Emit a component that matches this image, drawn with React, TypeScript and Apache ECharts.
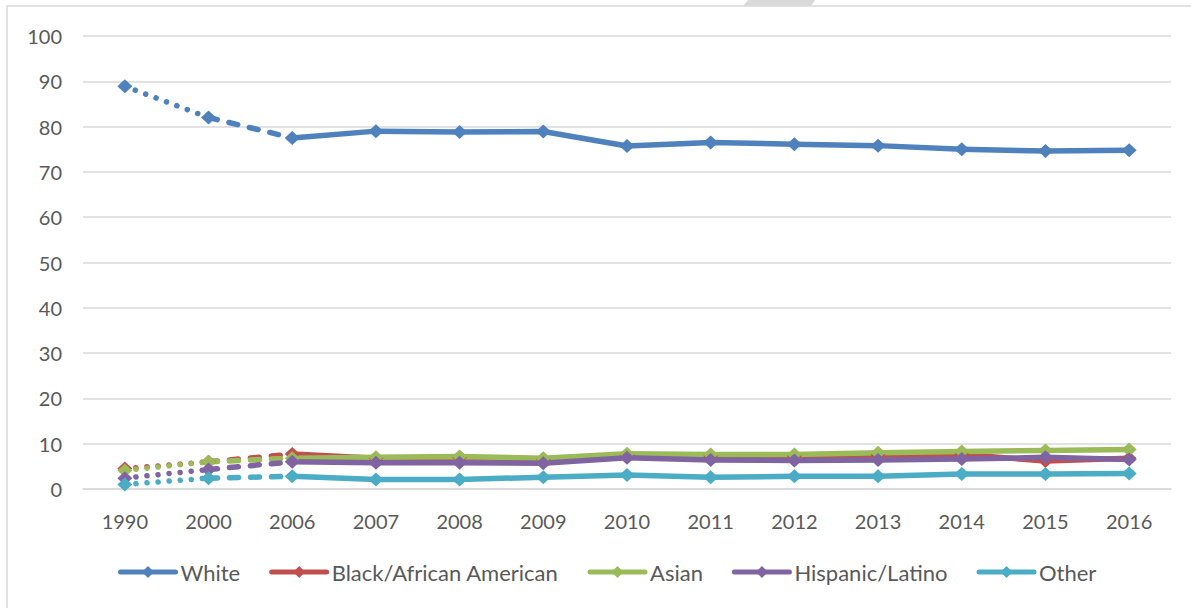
import React, { useEffect, useRef } from "react";
import * as echarts from "echarts";

// Survey years on the category axis
const years = ["1990", "2000", "2006", "2007", "2008", "2009", "2010", "2011", "2012", "2013", "2014", "2015", "2016"];

// Share of population (%) by group
const white = [88.9, 82.0, 77.5, 79.0, 78.8, 78.9, 75.7, 76.5, 76.1, 75.8, 75.0, 74.6, 74.8];
const black = [4.5, 6.0, 7.7, 6.8, 7.0, 6.6, 7.5, 7.3, 7.3, 7.5, 7.6, 6.2, 6.8];
const asian = [4.1, 6.0, 6.8, 7.0, 7.2, 6.8, 7.8, 7.6, 7.6, 8.0, 8.3, 8.5, 8.7];
const hispanic = [2.4, 4.3, 6.0, 5.8, 5.8, 5.7, 6.9, 6.4, 6.3, 6.4, 6.6, 7.0, 6.5];
const other = [1.0, 2.4, 2.8, 2.1, 2.1, 2.6, 3.1, 2.6, 2.8, 2.8, 3.3, 3.3, 3.4];

const groups = [
  { name: "White", color: "#4F81BD", values: white },
  { name: "Black/African American", color: "#C0504D", values: black },
  { name: "Asian", color: "#9BBB59", values: asian },
  { name: "Hispanic/Latino", color: "#8064A2", values: hispanic },
  { name: "Other", color: "#4BACC6", values: other },
];

const yTicks = { min: 0, max: 100, interval: 10 };

const FONT = "Lato";
const TEXT = "#595959";
const GRID = "#d9d9d9";
const LINE_W = 5.5;
const MARK = [15, 14];

function pick(values: number[], from: number, to: number) {
  return values.map((v, i) => (i >= from && i <= to ? v : "-"));
}

function buildSeries() {
  const out: any[] = [];
  const last = years.length - 1;
  groups.forEach((g) => {
    // solid part: 2006 onward
    out.push({
      name: g.name,
      type: "line",
      data: pick(g.values, 2, last),
      symbol: "diamond",
      symbolSize: MARK,
      color: g.color,
      itemStyle: { color: g.color },
      lineStyle: { color: g.color, width: LINE_W, cap: "round", join: "round" },
    });
    // dashed part: 2000 to 2006
    out.push({
      name: g.name,
      type: "line",
      data: pick(g.values, 1, 2),
      symbol: "none",
      color: g.color,
      lineStyle: { color: g.color, width: LINE_W, type: [9, 12], cap: "round" },
    });
    // dotted part: 1990 to 2000
    out.push({
      name: g.name,
      type: "line",
      data: pick(g.values, 0, 1),
      symbol: "diamond",
      symbolSize: MARK,
      color: g.color,
      itemStyle: { color: g.color },
      lineStyle: { color: g.color, width: LINE_W, type: [0.1, 11], cap: "round" },
    });
  });
  return out;
}

export default function App() {
  const ref = useRef<HTMLDivElement>(null);

  useEffect(() => {
    if (!ref.current) return;
    const chart = echarts.init(ref.current, null, { renderer: "svg" });
    chart.setOption({
      animation: false,
      backgroundColor: "#ffffff",
      textStyle: { fontFamily: FONT },
      graphic: [
        {
          type: "rect",
          shape: { x: 7, y: 6, width: 1400, height: 800 },
          style: { fill: "none", stroke: GRID, lineWidth: 1.5 },
          silent: true,
        },
        {
          type: "polygon",
          shape: { points: [[743, 6], [748, 0], [815, 0], [811, 6]] },
          style: { fill: "#d9d9d9" },
          silent: true,
        },
      ],
      grid: { left: 83, right: 20, top: 36, bottom: 119, containLabel: false },
      xAxis: {
        type: "category",
        data: years,
        boundaryGap: true,
        axisLine: { show: true, lineStyle: { color: GRID, width: 1.5 } },
        axisTick: { show: false },
        axisLabel: { color: TEXT, fontSize: 20, fontFamily: FONT, margin: 22 },
        splitLine: { show: false },
      },
      yAxis: {
        type: "value",
        min: yTicks.min,
        max: yTicks.max,
        interval: yTicks.interval,
        axisLine: { show: false },
        axisTick: { show: false },
        axisLabel: { color: TEXT, fontSize: 20, fontFamily: FONT, margin: 21 },
        splitLine: { show: true, lineStyle: { color: GRID, width: 1.5 } },
      },
      legend: {
        data: groups.map((g) => g.name),
        left: 118,
        top: 561,
        padding: 0,
        itemWidth: 55,
        itemHeight: 15,
        itemGap: 29,
        lineStyle: { width: 5 },
        textStyle: { color: TEXT, fontSize: 22, fontFamily: FONT },
      },
      series: buildSeries(),
    });
    return () => chart.dispose();
  }, []);

  return (
    <div
      ref={ref}
      style={{ position: "fixed", left: 0, top: 0, width: 1191, height: 608 }}
    />
  );
}
